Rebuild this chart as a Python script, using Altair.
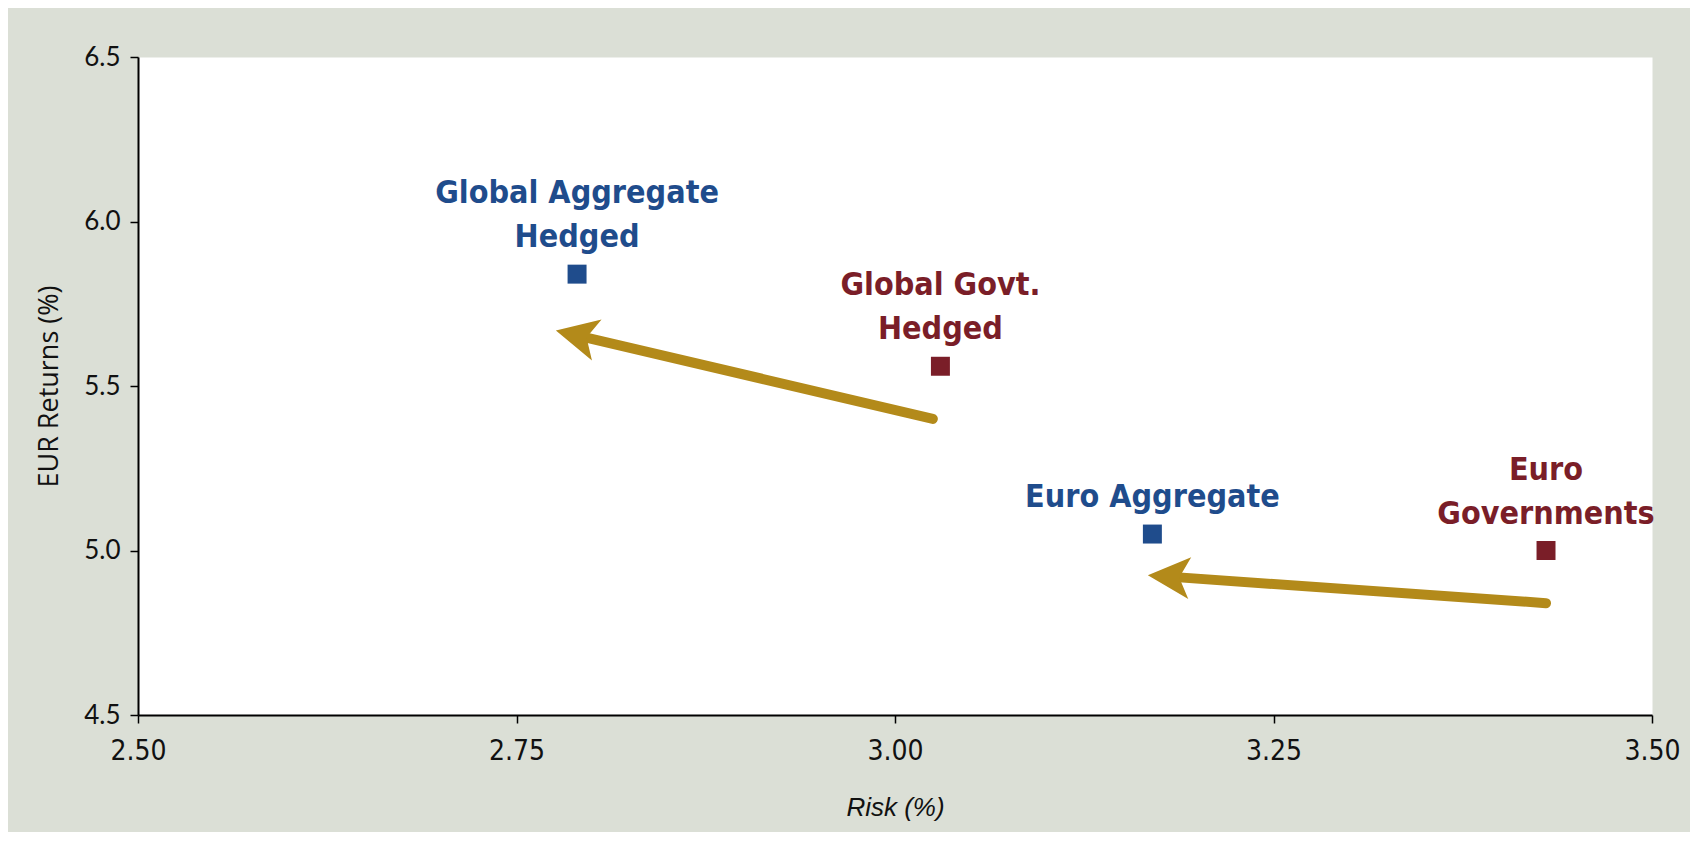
import math
import altair as alt
import pandas as pd

# ---- data ----
label_line1 = ["Global Aggregate", "Global Govt.", "", "Euro"]
label_line2 = ["Hedged", "Hedged", "Euro Aggregate", "Governments"]
risk = [2.79, 3.03, 3.17, 3.43]
returns = [5.84, 5.56, 5.05, 5.00]
kind = ["Aggregate", "Government", "Aggregate", "Government"]

arrow_from_risk = [3.025, 3.43]
arrow_from_ret = [5.40, 4.84]
arrow_to_risk = [2.776, 3.167]
arrow_to_ret = [5.669, 4.925]

x_ticks = [2.50, 2.75, 3.00, 3.25, 3.50]
y_ticks = [4.5, 5.0, 5.5, 6.0, 6.5]

# ---- styling ----
W, H = 1514, 658
X_DOM = [2.5, 3.5]
Y_DOM = [4.5, 6.5]
BLUE = "#1F4C8C"
RED = "#7A1E28"
GOLD = "#B38A1A"
BG = "#DBDFD6"
NARROW = "'Liberation Sans Narrow', 'DejaVu Sans Condensed', sans-serif"
HEAD_UNIT = 21  # px per shape unit
HEAD_BACK = 28  # px the shaft stops before the tip

pts = pd.DataFrame({"risk": risk, "ret": returns, "kind": kind,
                    "l1": label_line1, "l2": label_line2})

# arrows: compute screen-space direction from data and scales
rows = []
xr = X_DOM[1] - X_DOM[0]
yr = Y_DOM[1] - Y_DOM[0]
for fx, fy, tx, ty in zip(arrow_from_risk, arrow_from_ret, arrow_to_risk, arrow_to_ret):
    pdx = (tx - fx) / xr * W
    pdy = -(ty - fy) / yr * H
    L = math.hypot(pdx, pdy)
    ux, uy = pdx / L, pdy / L
    ang = math.degrees(math.atan2(pdy, pdx)) % 360
    ex = tx - HEAD_BACK * ux / W * xr
    ey = ty + HEAD_BACK * uy / H * yr
    rows.append({"fx": fx, "fy": fy, "ex": ex, "ey": ey, "tx": tx, "ty": ty, "angle": ang})
arrows = pd.DataFrame(rows)

xscale = alt.Scale(domain=X_DOM, nice=False, zero=False)
yscale = alt.Scale(domain=Y_DOM, nice=False, zero=False)
color = alt.Color("kind:N", scale=alt.Scale(domain=["Aggregate", "Government"], range=[BLUE, RED]), legend=None)

xaxis = alt.Axis(values=x_ticks, format=".2f", title="Risk (%)", grid=False,
                 labelFont=NARROW, labelFontSize=28, labelColor="#111111",
                 labelPadding=14, labelFlush=False, labelOverlap=False,
                 tickSize=8, tickColor="#000000", tickWidth=1.5,
                 domainColor="#000000", domainWidth=2,
                 titleFont="Liberation Sans", titleFontStyle="italic", titleFontWeight="normal",
                 titleFontSize=26, titleColor="#111111", titlePadding=29)
yaxis = alt.Axis(values=y_ticks, format=".1f", title="EUR Returns (%)", grid=False,
                 labelFont="Lato", labelFontSize=26, labelColor="#111111",
                 labelPadding=10, labelFlush=False, labelOverlap=False,
                 tickSize=8, tickColor="#000000", tickWidth=1.5,
                 domainColor="#000000", domainWidth=2,
                 titleFont="Open Sans", titleFontWeight="normal",
                 titleFontSize=27, titleColor="#111111", titlePadding=20)

base = alt.Chart(pts)

squares = base.mark_square(size=360, opacity=1, filled=True).encode(
    x=alt.X("risk:Q", scale=xscale, axis=xaxis),
    y=alt.Y("ret:Q", scale=yscale, axis=yaxis),
    color=color,
)

txt_kw = dict(font=NARROW, fontSize=32, fontWeight="bold", align="center", baseline="alphabetic")
text2 = base.mark_text(dy=-27, **txt_kw).encode(
    x="risk:Q", y="ret:Q", text="l2:N", color=color)
text1 = base.mark_text(dy=-71, **txt_kw).encode(
    x="risk:Q", y="ret:Q", text="l1:N", color=color)

shaft = alt.Chart(arrows).mark_rule(color=GOLD, strokeWidth=10, strokeCap="round").encode(
    x="fx:Q", y="fy:Q", x2="ex:Q", y2="ey:Q")

head = alt.Chart(arrows).mark_point(
    shape="M 0 0 L -2 -1 L -1.5 0 L -2 1 Z", size=(2 * HEAD_UNIT) ** 2,
    filled=True, fill=GOLD, color=GOLD, opacity=1, strokeWidth=0).encode(
    x="tx:Q", y="ty:Q", angle=alt.Angle("angle:Q", scale=None))

chart = alt.layer(shaft, head, squares, text2, text1).properties(
    width=W, height=H,
    autosize=alt.AutoSizeParams(type="none"),
    padding={"left": 130, "top": 49, "right": 38, "bottom": 117},
    background=BG,
).configure_view(fill="white", stroke="transparent")

chart.save("out.html", embed_options={"renderer": "svg", "actions": False})
